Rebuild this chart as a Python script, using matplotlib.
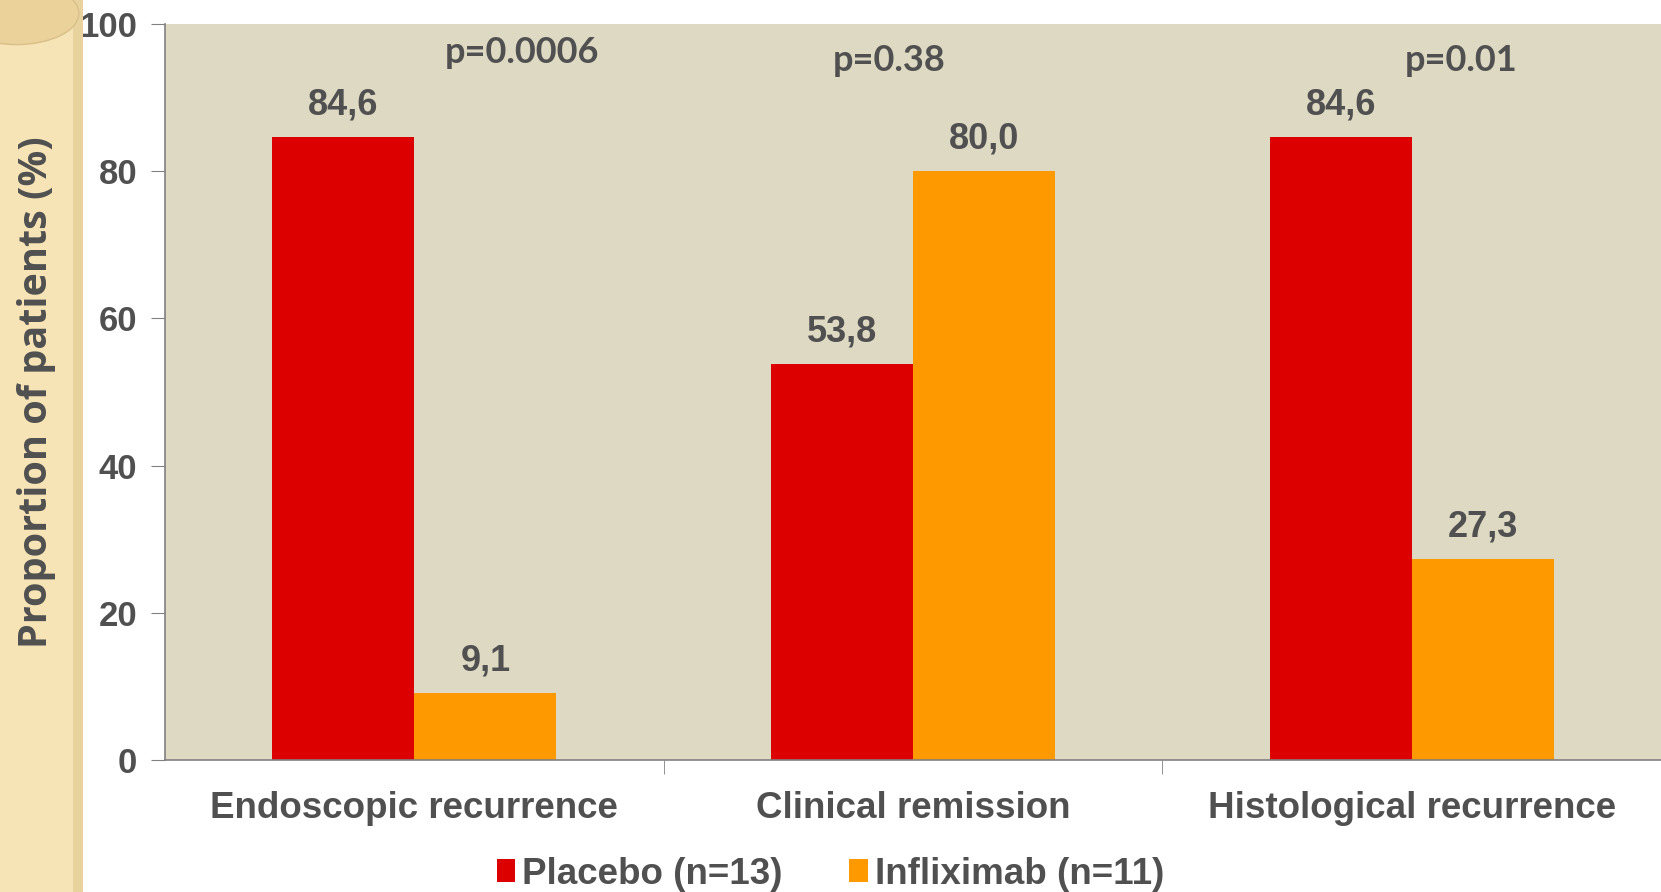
import matplotlib.pyplot as plt
import matplotlib.patches as mpatches
import numpy as np

# data
categories = ['Endoscopic recurrence', 'Clinical remission', 'Histological recurrence']
placebo = [84.6, 53.8, 84.6]
infliximab = [9.1, 80.0, 27.3]
pvalues = ['p=0.0006', 'p=0.38', 'p=0.01']
series_names = ['Placebo (n=13)', 'Infliximab (n=11)']

plt.rcParams['font.family'] = ['Liberation Sans', 'DejaVu Sans']
plt.rcParams['hatch.color'] = '#EAD3A0'
txt = '#505050'

fig = plt.figure(figsize=(16.61, 8.92), dpi=100)

# decorative side strip on the left
strip = mpatches.Rectangle((0, 0), 0.05, 1, transform=fig.transFigure,
                           facecolor='#F6E4B6', edgecolor='none', hatch='++', zorder=0)
fig.patches.append(strip)
edge = mpatches.Rectangle((0.044, 0), 0.006, 1, transform=fig.transFigure,
                          facecolor='#E8D39E', edgecolor='none', zorder=0)
fig.patches.append(edge)
tab = mpatches.Ellipse((0.01, 0.985), 0.075, 0.07, transform=fig.transFigure,
                       facecolor='#EBD29A', edgecolor='#D9C08A', zorder=1)
fig.patches.append(tab)

ax = fig.add_axes([165/1661, 1-760/892, 1-165/1661, (760-24)/892])
ax.set_facecolor('#DDD9C3')

x = np.arange(len(categories)) + 0.5
w = 0.285
ax.bar(x - w/2, placebo, w, color='#DD0000', label=series_names[0])
ax.bar(x + w/2, infliximab, w, color='#FF9900', label=series_names[1])

for xi, v in zip(x - w/2, placebo):
    ax.text(xi, v + 2, f'{v:.1f}'.replace('.', ','), ha='center', va='bottom',
            fontsize=26, fontweight='bold', color=txt)
for xi, v in zip(x + w/2, infliximab):
    ax.text(xi, v + 2, f'{v:.1f}'.replace('.', ','), ha='center', va='bottom',
            fontsize=26, fontweight='bold', color=txt)

p_pos = [(0.715, 96.1), (1.452, 95.0), (2.60, 95.1)]
for (px, py), p in zip(p_pos, pvalues):
    ax.text(px, py, p, ha='center', va='center', fontsize=26,
            fontweight='bold', color=txt, family=['Lato', 'DejaVu Sans'])

ax.set_xlim(0, 3)
ax.set_ylim(0, 100)
ax.set_yticks([0, 20, 40, 60, 80, 100])
ax.set_xticks(x)
ax.set_xticklabels(categories, fontsize=26.5, fontweight='bold', color=txt)
ax.set_xticks([1, 2], minor=True)
ax.tick_params(axis='x', which='major', length=0, pad=22)
ax.tick_params(axis='x', which='minor', length=10, color='#808080')
ax.tick_params(axis='y', length=10, color='#808080', labelsize=25,
               labelcolor=txt, pad=10)
for lab in ax.get_yticklabels():
    lab.set_fontweight('bold')

for s in ['top', 'right']:
    ax.spines[s].set_visible(False)
for s in ['left', 'bottom']:
    ax.spines[s].set_color('#808080')
    ax.spines[s].set_linewidth(1.2)

fig.text(37/1661, 1-392/892, 'Proportion of patients (%)', rotation=90,
         ha='center', va='center', fontsize=28.5, fontweight='bold', color=txt,
         family=['Open Sans', 'DejaVu Sans'])

leg = fig.legend(loc='center', bbox_to_anchor=(0.5, 0.02), ncol=2, frameon=False,
                 fontsize=26.5, handlelength=0.5, handleheight=0.6,
                 handletextpad=0.2, columnspacing=1.8)
for t in leg.get_texts():
    t.set_color(txt)
    t.set_fontweight('bold')

fig.savefig('out.png', dpi=100)
